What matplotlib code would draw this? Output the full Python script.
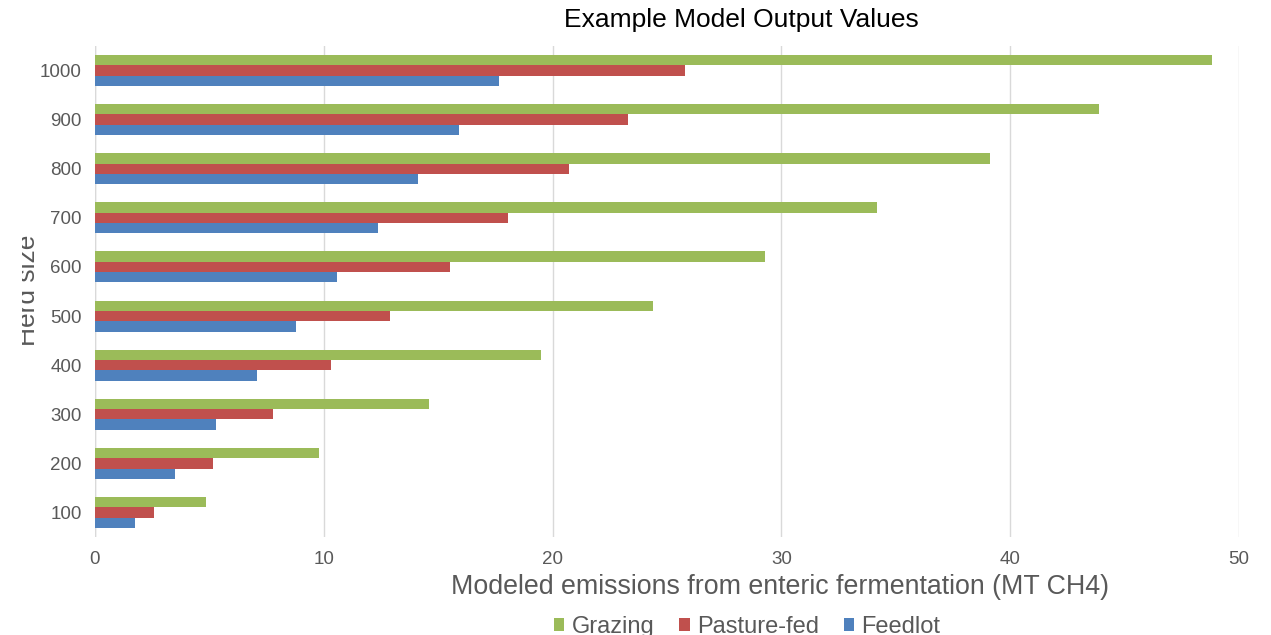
import matplotlib
matplotlib.use("Agg")
import matplotlib.pyplot as plt
import numpy as np
from matplotlib.transforms import Bbox

plt.rcParams['font.family'] = ['Liberation Sans', 'DejaVu Sans']

herd_sizes = ["100", "200", "300", "400", "500", "600", "700", "800", "900", "1000"]
grazing = [4.87, 9.77, 14.6, 19.5, 24.4, 29.3, 34.2, 39.1, 43.9, 48.8]
pasture_fed = [2.57, 5.16, 7.76, 10.3, 12.9, 15.5, 18.06, 20.7, 23.3, 25.8]
feedlot = [1.73, 3.5, 5.27, 7.07, 8.8, 10.57, 12.37, 14.1, 15.9, 17.67]
x_ticks = [0, 10, 20, 30, 40, 50]

GREEN = "#9BBB59"
RED = "#C0504D"
BLUE = "#4F81BD"
GRAY = "#595959"

W, H = 1271, 635
fig = plt.figure(figsize=(W / 100, H / 100), dpi=100)
ax = fig.add_axes([95 / W, 1 - 537 / H, (1239 - 95) / W, (537 - 46) / H])

y = np.arange(1, len(herd_sizes) + 1)
bh = 0.21
ax.barh(y + bh, grazing, height=bh, color=GREEN, label="Grazing")
ax.barh(y, pasture_fed, height=bh, color=RED, label="Pasture-fed")
ax.barh(y - bh, feedlot, height=bh, color=BLUE, label="Feedlot")

ax.set_xlim(0, 50)
ax.set_ylim(0.5, len(herd_sizes) + 0.5)
ax.set_xticks(x_ticks)
ax.set_xticklabels([str(t) for t in x_ticks])
ax.set_yticks(y)
ax.set_yticklabels(herd_sizes)
ax.tick_params(axis='both', length=0, colors=GRAY, labelsize=13.5)
ax.tick_params(axis='y', pad=9.5)
ax.tick_params(axis='x', pad=10)
for s in ax.spines.values():
    s.set_visible(False)
ax.grid(axis='x', color="#D9D9D9", linewidth=1)
ax.set_axisbelow(True)
ax.axvline(0, color="#D9D9D9", linewidth=1, zorder=0.5)

fig.text(741 / W, 1 - 20 / H, "Example Model Output Values", ha='center', va='center',
         fontsize=19, color='black')
fig.text(780 / W, 1 - 587 / H, "Modeled emissions from enteric fermentation (MT CH4)",
         ha='center', va='center', fontsize=19.3, color=GRAY)

yl = fig.text(40 / W, 1 - 290 / H, "Herd size", rotation=90, ha='right', va='center',
              fontsize=19, color=GRAY)
yl.set_clip_on(True)
yl.set_clip_box(Bbox.from_extents(22, 0, W, H))

handles, labels = ax.get_legend_handles_labels()
fig.legend(handles, labels, loc='center', bbox_to_anchor=(747 / W, 1 - 627 / H),
           ncol=3, frameon=False, fontsize=17, labelcolor=GRAY,
           handlelength=0.45, handleheight=0.45, handletextpad=0.3, columnspacing=1.05)

fig.savefig("out.png", dpi=100)
